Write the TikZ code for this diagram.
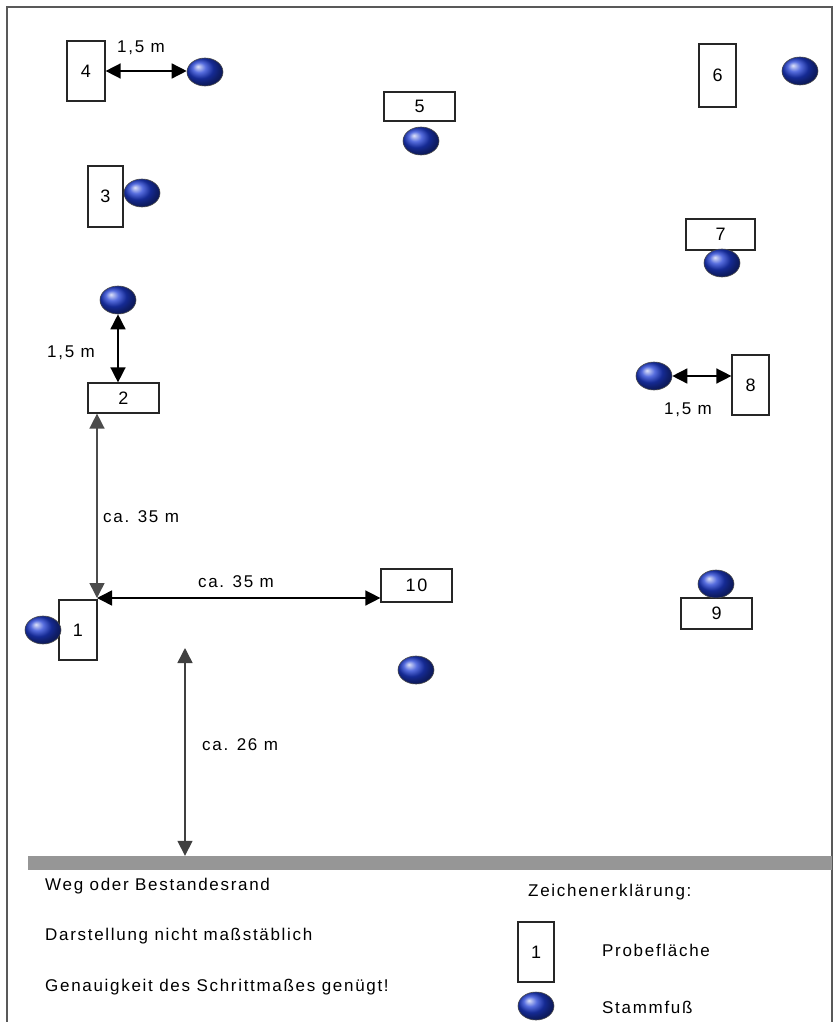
\documentclass[tikz,border=0pt]{standalone}
\usepackage{fontspec}
\setmainfont{Liberation Sans}
\newfontfamily\lblfont[LetterSpace=10]{Liberation Sans}
\newfontfamily\numfont[LetterSpace=10]{Liberation Sans}
\usetikzlibrary{shapes.geometric,arrows.meta}
\definecolor{stemblue}{RGB}{30,60,210}
\definecolor{roadgray}{RGB}{150,150,150}

\begin{document}
\begin{tikzpicture}[x=1pt, y=-1pt,
    plot/.style={draw=black!85, line width=1.2pt, fill=white, inner sep=0pt, font=\fontsize{18}{20}\numfont},
    stem/.style={ellipse, draw=black!70, line width=0.6pt, shading=ball, ball color=stemblue, minimum width=36pt, minimum height=28pt, inner sep=0pt},
    dim/.style={{Triangle[length=15pt,width=15pt]}-{Triangle[length=15pt,width=15pt]}, line width=1.5pt},
    lbl/.style={font=\fontsize{17}{20}\lblfont, text=black, inner sep=0pt}]
    \useasboundingbox (0,0) rectangle (837,1022);
    \draw[black!65, line width=1.4pt] (7,1022) -- (7,7) -- (832,7) -- (832,1022);

    % Probeflaechen
    \node[plot, minimum width=38pt, minimum height=60pt] (b4) at (86,71) {4};
    \node[plot, minimum width=35pt, minimum height=61pt] (b3) at (105.5,196.5) {3};
    \node[plot, minimum width=71pt, minimum height=29pt] (b5) at (419.5,106.5) {5};
    \node[plot, minimum width=37pt, minimum height=63pt] (b6) at (717.5,75.5) {6};
    \node[plot, minimum width=69pt, minimum height=31pt] (b7) at (720.5,234.5) {7};
    \node[plot, minimum width=37pt, minimum height=60pt] (b8) at (750.5,385) {8};
    \node[plot, minimum width=71pt, minimum height=30pt] (b2) at (123.5,398) {2};
    \node[plot, minimum width=71pt, minimum height=33pt] (b10) at (416.5,585.5) {10};
    \node[plot, minimum width=38pt, minimum height=60pt] (b1) at (78,630) {1};
    \node[plot, minimum width=71pt, minimum height=31pt] (b9) at (716.5,613.5) {9};

    % Stammfuesse
    \node[stem] (s4) at (205,72) {};
    \node[stem] (s3) at (142,193) {};
    \node[stem] (s5) at (421,141) {};
    \node[stem] (s6) at (800,71) {};
    \node[stem] (s7) at (722,263) {};
    \node[stem] (s8) at (654,376) {};
    \node[stem] (s2) at (118,300) {};
    \node[stem] (s1) at (43,630) {};
    \node[stem] (s10) at (416,670) {};
    \node[stem] (s9) at (716,584) {};

    % Weg
    \node[fill=roadgray, minimum width=804pt, minimum height=14pt, inner sep=0pt] (road) at (430,863) {};

    % Abstaende
    \coordinate (corner) at (97,598);
    \coordinate (start26) at (185,648);
    \draw[dim] (b4.east) -- (b4.east -| s4.west);
    \draw[dim] (s2.south) -- (s2.south |- b2.north);
    \draw[dim] (s8.east) -- (s8.east -| b8.west);
    \draw[dim, black!70] (corner) -- (corner |- b2.south);
    \draw[dim] (corner) -- (corner -| b10.west);
    \draw[dim, black!75] (start26) -- (start26 |- road.north);

    \node[lbl] (d4) at (141,48) {1,5 m};
    \node[lbl] (d2) at (71,353) {1,5 m};
    \node[lbl] (d8) at (688,410) {1,5 m};
    \node[lbl, anchor=west] (d12) at (103,517) {ca. 35 m};
    \node[lbl] (d110) at (236,582) {ca. 35 m};
    \node[lbl, anchor=west] (d26) at (202,745) {ca. 26 m};

    % Legende
    \node[lbl, anchor=west] (weg) at (45,886) {Weg oder Bestandesrand};
    \node[lbl, anchor=west] (massstab) at (45,936) {Darstellung nicht maßstäblich};
    \node[lbl, anchor=west] (genau) at (45,987) {Genauigkeit des Schrittmaßes genügt!};
    \node[lbl, anchor=west] (legend) at (528,892) {Zeichenerklärung:};
    \node[plot, minimum width=36pt, minimum height=60pt] (lbox) at (536,952) {1};
    \node[lbl, anchor=west] (lboxtext) at (602,950) {Probefläche};
    \node[stem] (lstem) at (536,1006) {};
    \node[lbl, anchor=west] (lstemtext) at (602,1007) {Stammfuß};
\end{tikzpicture}
\end{document}
